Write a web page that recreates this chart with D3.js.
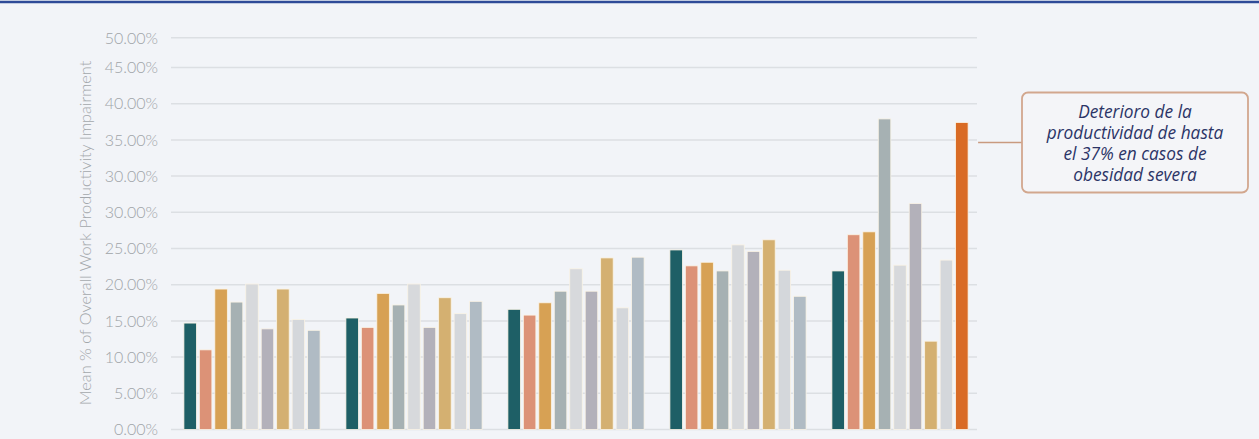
<!DOCTYPE html>
<html>
<head>
<meta charset="utf-8">
<style>
  body { margin: 0; background: #f2f4f8; }
  svg { display: block; }
  .grid line { stroke: #dcdfe3; stroke-width: 1.5; }
  .ylab { font-family: Lato, sans-serif; font-size: 16px; font-weight: 300; fill: #a0a4a8; }
  .ytitle { font-family: Lato, sans-serif; font-size: 16.3px; font-weight: 300; fill: #a3a7ab; }
  .note { font-family: "Open Sans", sans-serif; font-style: italic; font-size: 17.3px; fill: #2b3466; }
</style>
<script src="https://d3js.org/d3.v7.min.js"></script>
</head>
<body>
<svg id="chart" width="1259" height="439"></svg>
<script>
// groups along the x axis (no labels shown in the picture)
var categories = ["G1", "G2", "G3", "G4", "G5"];
var series = ["s1", "s2", "s3", "s4", "s5", "s6", "s7", "s8", "s9"];

// bar heights per group, one value per series (read against the gridlines)
var g1 = [14.7, 11.0, 19.4, 17.6, 20.1, 13.9, 19.4, 15.2, 13.7];
var g2 = [15.4, 14.1, 18.8, 17.2, 20.1, 14.1, 18.2, 16.0, 17.7];
var g3 = [16.6, 15.8, 17.5, 19.1, 22.2, 19.1, 23.7, 16.8, 23.8];
var g4 = [24.8, 22.6, 23.1, 21.9, 25.5, 24.6, 26.2, 22.0, 18.4];
var g5 = [21.9, 26.9, 27.3, 42.9, 22.7, 31.2, 12.2, 23.4, 42.4];
var groupValues = [g1, g2, g3, g4, g5];

// gridline positions and the labels printed next to them
var gridValues = [0, 5, 10, 15, 20, 25, 30, 35, 40, 45, 50, 54.1];
var tickLabels = ["0.00%", "5.00%", "10.00%", "15.00%", "20.00%", "25.00%",
                  "30.00%", "30.00%", "35.00%", "40.00%", "45.00%", "50.00%"];

var colors = ["#1e5f66", "#dc9277", "#d7a154", "#a6b1b3", "#d7d9dc",
              "#b3b1ba", "#d4b071", "#d4d7db", "#b0bbc4"];
var highlight = "#d96b25";

var noteLines = ["Deterioro de la", "productividad de hasta", "el 37% en casos de", "obesidad severa"];

var svg = d3.select("#chart");

// top rule
svg.append("line")
    .attr("x1", 0).attr("x2", 1259)
    .attr("y1", 2).attr("y2", 2)
    .attr("stroke", "#2f4b98")
    .attr("stroke-width", 2.5);

var y = d3.scaleLinear().domain([0, 50]).range([429.5, 67.5]);
var x0 = d3.scaleBand().domain(categories).range([171, 981]).padding(0);
var x1 = d3.scaleBand().domain(series).range([12.9, 149.1]).paddingInner(0.19).paddingOuter(0);

// gridlines
svg.append("g")
    .attr("class", "grid")
    .selectAll("line")
    .data(gridValues)
    .join("line")
    .attr("x1", 171).attr("x2", 977)
    .attr("y1", function(d) { return y(d); })
    .attr("y2", function(d) { return y(d); });

svg.append("g")
    .selectAll("text")
    .data(gridValues)
    .join("text")
    .attr("class", "ylab")
    .attr("x", 158)
    .attr("y", function(d) { return y(d); })
    .attr("dy", "0.36em")
    .attr("text-anchor", "end")
    .text(function(d, i) { return tickLabels[i]; });

svg.append("text")
    .attr("class", "ytitle")
    .attr("transform", "translate(91,233) rotate(-90)")
    .attr("text-anchor", "middle")
    .text("Mean % of Overall Work Productivity Impairment");

// bars
var groups = svg.append("g")
    .selectAll("g")
    .data(groupValues)
    .join("g")
    .attr("transform", function(d, i) { return "translate(" + x0(categories[i]) + ",0)"; });

groups.each(function(vals, gi) {
    d3.select(this).selectAll("rect")
        .data(vals)
        .join("rect")
        .attr("x", function(d, i) { return x1(series[i]); })
        .attr("y", function(d) { return y(d); })
        .attr("width", x1.bandwidth())
        .attr("height", function(d) { return y(0) - y(d); })
        .attr("fill", function(d, i) {
            return (gi === categories.length - 1 && i === series.length - 1) ? highlight : colors[i];
        })
        .attr("stroke", "#fbf4e6")
        .attr("stroke-width", 0.8);
});

// callout
var lastX = x0(categories[4]) + x1(series[8]) + x1.bandwidth();
svg.append("line")
    .attr("x1", lastX + 10).attr("x2", 1022)
    .attr("y1", 142.5).attr("y2", 142.5)
    .attr("stroke", "#c99a7f")
    .attr("stroke-width", 1.5);

svg.append("rect")
    .attr("x", 1022).attr("y", 92.5)
    .attr("width", 226).attr("height", 100)
    .attr("rx", 6)
    .attr("fill", "#f4f5f8")
    .attr("stroke", "#d2a78e")
    .attr("stroke-width", 1.8);

// one wrapped text block
svg.append("text")
    .attr("class", "note")
    .attr("text-anchor", "middle")
    .selectAll("tspan")
    .data(noteLines)
    .join("tspan")
    .attr("x", 1135)
    .attr("y", function(d, i) { return 117.5 + i * 21; })
    .text(function(d) { return d; });
</script>
</body>
</html>
